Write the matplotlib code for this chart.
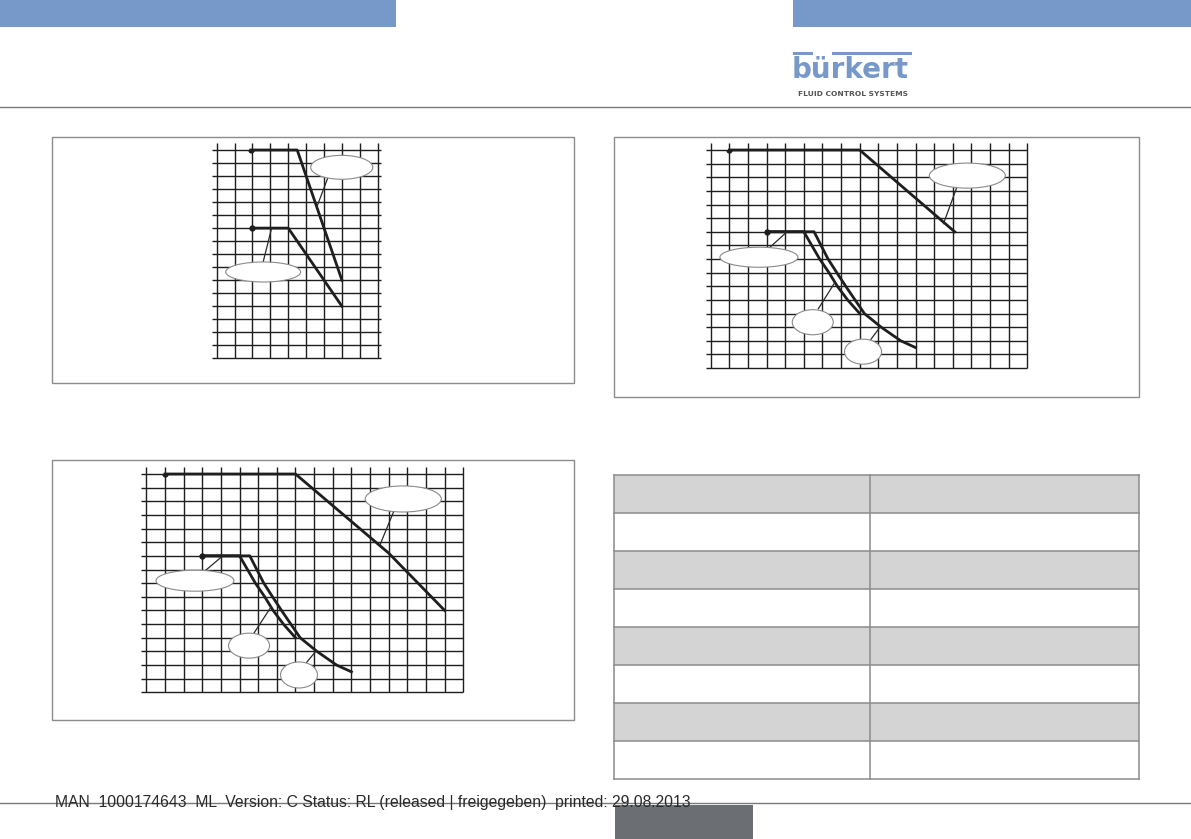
import matplotlib
matplotlib.use("Agg")
import matplotlib.pyplot as plt
from matplotlib.patches import Rectangle, Ellipse

W, H = 1191, 839

# ---- chart data (grid units: x = column index, y = row index from bottom) ----
# chart 1 (top left), 9 x 16 grid
c1_upper_x = [1.9, 4.5, 7.0]
c1_upper_y = [16, 16, 6]
c1_lower_x = [1.95, 4.0, 7.0]
c1_lower_y = [10, 10, 4]

# chart 2 (top right), 17 x 16 grid
c2_a_x = [1, 8, 13.1]
c2_a_y = [16, 16, 10]
c2_b1_x = [3, 5, 5.85, 6.35, 6.8, 7.35, 8]
c2_b1_y = [10, 10, 8, 7, 6, 5, 4]
c2_b2_x = [3, 5.55, 6.3, 6.77, 7.25, 8.25, 9.15, 10.2, 11]
c2_b2_y = [10, 10, 8, 7, 6, 4, 3, 2, 1.5]

# chart 3 (bottom left), 17 x 16 grid
c3_a_x = [1, 8, 13, 16]
c3_a_y = [16, 16, 10.2, 6]
c3_b1_x = [3, 5, 5.85, 6.35, 6.8, 7.35, 8]
c3_b1_y = [10, 10, 8, 7, 6, 5, 4]
c3_b2_x = [3, 5.55, 6.3, 6.77, 7.25, 8.25, 9.15, 10.2, 11]
c3_b2_y = [10, 10, 8, 7, 6, 4, 3, 2, 1.5]

# callout bubbles: centre x, centre y, width, height, leader from -> to
c1_bub_x = [6.99, 2.6]
c1_bub_y = [14.67, 6.63]
c1_bub_w = [3.47, 4.19]
c1_bub_h = [1.84, 1.54]
c1_lead = [((6.2, 13.82), (5.59, 11.6)), ((2.6, 7.42), (3.07, 10))]

c2_bub_x = [13.78, 2.59, 5.48, 8.18]
c2_bub_y = [14.12, 8.13, 3.36, 1.2]
c2_bub_w = [4.08, 4.19, 2.2, 1.99]
c2_bub_h = [1.84, 1.47, 1.84, 1.84]
c2_lead = [((13.21, 13.24), (12.5, 10.6)), ((3.18, 8.86), (4.1, 10)),
           ((5.78, 4.35), (6.68, 6.3)), ((8.6, 2.1), (9.12, 3.05))]

c3_bub_x = [13.78, 2.61, 5.51, 8.19]
c3_bub_y = [14.17, 8.18, 3.42, 1.27]
c3_bub_w = [4.08, 4.18, 2.2, 1.98]
c3_bub_h = [1.91, 1.54, 1.83, 1.91]
c3_lead = [((13.28, 13.29), (12.53, 10.8)), ((3.2, 8.96), (4.1, 10)),
           ((5.77, 4.33), (6.7, 6.28)), ((8.6, 2.2), (9.12, 3.05))]

footer_text = "MAN  1000174643  ML  Version: C Status: RL (released | freigegeben)  printed: 29.08.2013"

blue = "#7799c9"
frame = "#8c8c8c"
ink = "#1e1e1e"

fig = plt.figure(figsize=(W / 100, H / 100), dpi=100)
page = fig.add_axes([0, 0, 1, 1])
page.set_xlim(0, W)
page.set_ylim(H, 0)
page.axis("off")

# header bars, logo, rule
page.add_patch(Rectangle((0, 0), 396, 27, color=blue, lw=0))
page.add_patch(Rectangle((793, 0), W - 793, 27, color=blue, lw=0))
page.add_patch(Rectangle((793, 51.5), 19.5, 3.6, color=blue, lw=0))
page.add_patch(Rectangle((831.5, 51.5), 80.5, 3.6, color=blue, lw=0))
page.text(792, 78, "bürkert", color=blue, fontsize=20, fontweight="bold",
          family="DejaVu Sans", ha="left", va="baseline")
page.text(852.5, 95.5, "FLUID CONTROL SYSTEMS", color="#555555", fontsize=5.4,
          fontweight="bold", family="DejaVu Sans", ha="center", va="baseline")
page.plot([0, W], [107, 107], color="#7a7a7a", lw=1.0)

# chart frames
for (x0, y0, x1, y1) in [(52, 136.5, 574, 382.5), (614, 136.5, 1139, 397), (52, 460, 574, 720)]:
    page.add_patch(Rectangle((x0, y0), x1 - x0, y1 - y0, fill=False, ec=frame, lw=1.0))

# table
row_top, row_h, n_rows = 475, 38, 8
col_x = [614, 870, 1139]
for i in range(n_rows):
    y = row_top + i * row_h
    if i % 2 == 0:
        page.add_patch(Rectangle((col_x[0], y), col_x[2] - col_x[0], row_h, color="#d4d4d4", lw=0))
for i in range(n_rows + 1):
    y = row_top + i * row_h
    page.plot([col_x[0], col_x[2]], [y, y], color=frame, lw=1.1)
for x in col_x:
    page.plot([x, x], [row_top, row_top + n_rows * row_h], color=frame, lw=1.1)

# footer
page.plot([0, W], [803, 803], color="#7a7a7a", lw=1.0)
page.add_patch(Rectangle((615, 805), 138, H - 805, color="#6b6e73", lw=0))
page.text(55, 807, footer_text, fontsize=11.3, family="Liberation Sans",
          color="#2a2a2a", ha="left", va="baseline")


def grid_chart(x0, y0, x1, y1, ncols, nrows, top_ext, left_ext, right_ext):
    ax = fig.add_axes([x0 / W, 1 - y1 / H, (x1 - x0) / W, (y1 - y0) / H])
    ax.set_xlim(0, ncols)
    ax.set_ylim(0, nrows)
    ax.axis("off")
    ax.patch.set_visible(False)
    ux = (x1 - x0) / ncols
    uy = (y1 - y0) / nrows
    for c in range(ncols + 1):
        ax.plot([c, c], [0, nrows + top_ext / uy], color=ink, lw=1.0,
                clip_on=False, solid_capstyle="butt")
    for r in range(nrows + 1):
        ax.plot([-left_ext / ux, ncols + right_ext / ux], [r, r], color=ink, lw=1.0,
                clip_on=False, solid_capstyle="butt")
    return ax


def curve(ax, xs, ys, dot=True):
    ax.plot(xs, ys, color=ink, lw=2.0, clip_on=False, solid_joinstyle="round", zorder=4)
    if dot:
        ax.plot(xs[0], ys[0], "o", color=ink, ms=3.5, zorder=5)


def bubbles(ax, bx, by, bw, bh, leads):
    for (p0, p1) in leads:
        ax.plot([p0[0], p1[0]], [p0[1], p1[1]], color="#2a2a2a", lw=0.9, zorder=5)
    for cx, cy, w, h in zip(bx, by, bw, bh):
        ax.add_patch(Ellipse((cx, cy), w, h, fc="white", ec="#8a8a8a", lw=0.8, zorder=6))


ax1 = grid_chart(216.7, 150, 377.7, 358.3, 9, 16, 7.5, 4.4, 3.3)
curve(ax1, c1_upper_x, c1_upper_y)
curve(ax1, c1_lower_x, c1_lower_y)
bubbles(ax1, c1_bub_x, c1_bub_y, c1_bub_w, c1_bub_h, c1_lead)

ax2 = grid_chart(710.7, 150, 1027.3, 368, 17, 16, 6.7, 5, 0)
curve(ax2, c2_a_x, c2_a_y)
curve(ax2, c2_b1_x, c2_b1_y)
curve(ax2, c2_b2_x, c2_b2_y, dot=False)
bubbles(ax2, c2_bub_x, c2_bub_y, c2_bub_w, c2_bub_h, c2_lead)

ax3 = grid_chart(146.3, 474, 463.3, 692.3, 17, 16, 7.3, 5, 0)
curve(ax3, c3_a_x, c3_a_y)
curve(ax3, c3_b1_x, c3_b1_y)
curve(ax3, c3_b2_x, c3_b2_y, dot=False)
bubbles(ax3, c3_bub_x, c3_bub_y, c3_bub_w, c3_bub_h, c3_lead)

fig.savefig("out.png", dpi=100)
